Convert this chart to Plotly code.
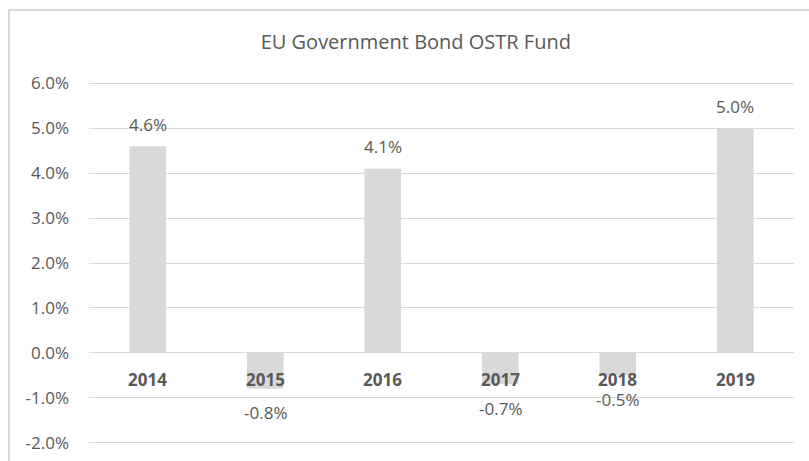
import plotly.graph_objects as go

years = ["2014", "2015", "2016", "2017", "2018", "2019"]
returns = [4.6, -0.8, 4.1, -0.7, -0.5, 5.0]
y_ticks = [-2, -1, 0, 1, 2, 3, 4, 5, 6]
y_tick_labels = [f"{v:.1f}%" for v in y_ticks]

GREY_TEXT = "#595959"
BAR = "#d9d9d9"
FONT = "Open Sans"

fig = go.Figure()
fig.add_trace(go.Bar(x=years, y=returns, marker=dict(color=BAR, line=dict(width=0)),
                     hoverinfo="skip"))

annotations = []
for i, (yr, v) in enumerate(zip(years, returns)):
    annotations.append(dict(x=i, y=v, xref="x", yref="y", text=f"{v:.1f}%",
                            showarrow=False, yanchor="middle",
                            yshift=22 if v >= 0 else -24,
                            font=dict(family=FONT, size=17, color=GREY_TEXT)))
    annotations.append(dict(x=i, y=0, xref="x", yref="y", text=f"<b>{yr}</b>",
                            showarrow=False, yanchor="middle", yshift=-27,
                            font=dict(family=FONT, size=17, color=GREY_TEXT)))

top_px, bot_px = 81, 16
plot_h = 461 - top_px - bot_px

fig.update_layout(
    width=809, height=461,
    margin=dict(l=89, r=15, t=top_px, b=bot_px, autoexpand=False),
    paper_bgcolor="white", plot_bgcolor="white",
    bargap=0.688,
    showlegend=False,
    title=dict(text="EU Government Bond OSTR Fund", x=0.514, xref="container", xanchor="center",
               y=1 - 42 / 461, yref="container", yanchor="middle",
               font=dict(family=FONT, size=20, color=GREY_TEXT)),
    xaxis=dict(type="category", range=[-0.5, len(years) - 0.5], showticklabels=False,
               showgrid=False, zeroline=False, showline=False, ticks=""),
    yaxis=dict(range=[-2.05, 6.05], tickvals=y_ticks, ticktext=y_tick_labels,
               showgrid=True, gridcolor=BAR, gridwidth=1.3,
               zeroline=True, zerolinecolor=BAR, zerolinewidth=1.3,
               showline=False, ticks="", ticklabelstandoff=19,
               tickfont=dict(family=FONT, size=17, color=GREY_TEXT)),
    annotations=annotations,
    shapes=[dict(type="rect", xref="paper", yref="paper",
                 x0=(9 - 89) / 705, x1=1.2, y0=-0.2, y1=(461 - bot_px - 10) / plot_h,
                 line=dict(color=BAR, width=2), fillcolor="rgba(0,0,0,0)", layer="below")],
)

fig.write_html("out.html", config={"displayModeBar": False},
               post_script="document.body.style.margin='0';")
